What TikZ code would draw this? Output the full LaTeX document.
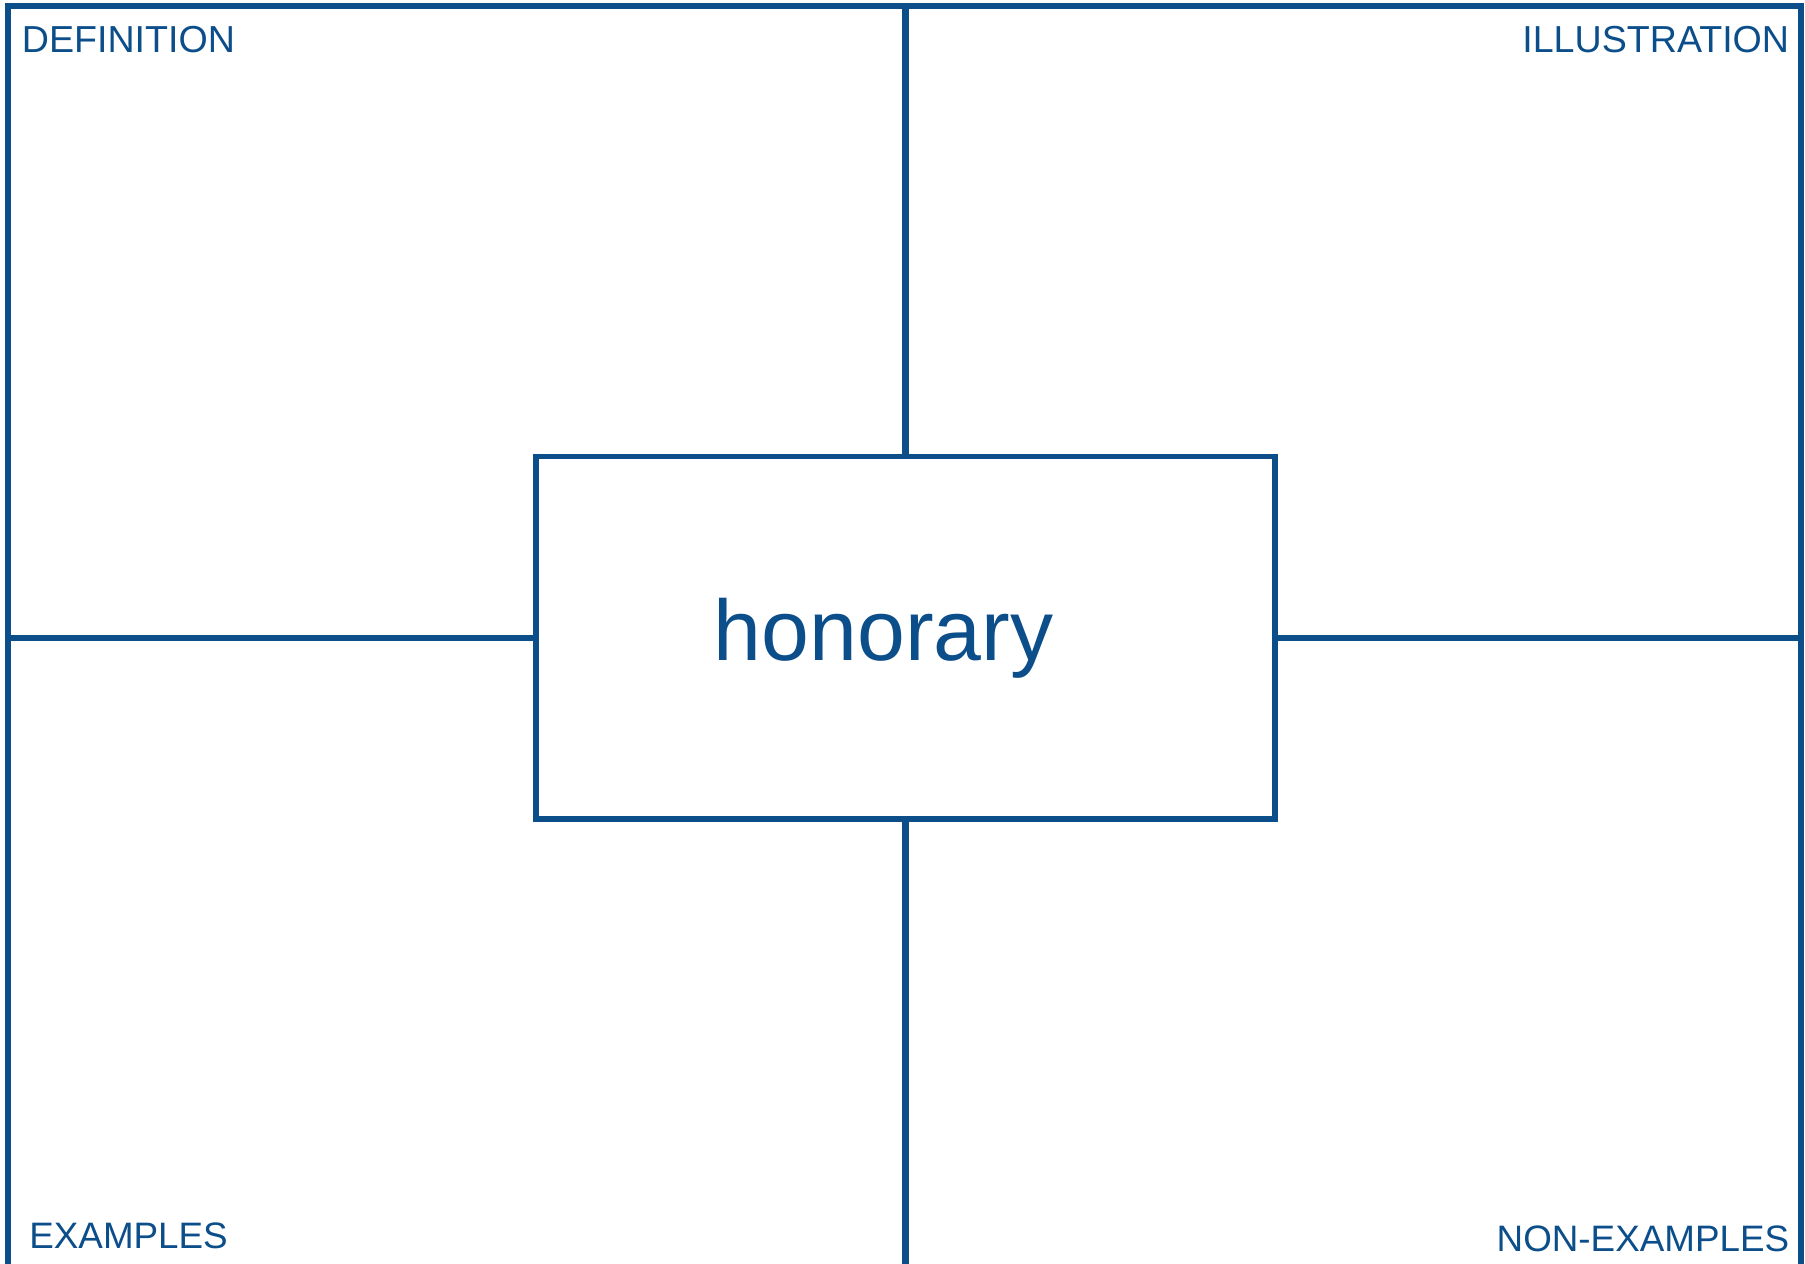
\documentclass[tikz,border=0pt]{standalone}
\usepackage{fontspec}
\setmainfont{Liberation Sans}
\definecolor{frameblue}{RGB}{11,78,138}
\tikzset{
  frame line/.style={draw=frameblue, line width=2.8pt},
  mid line/.style={draw=frameblue, line width=3.7pt},
  corner label/.style={text=frameblue, font=\fontsize{18.8}{22}\selectfont, inner sep=0pt},
  lower label/.style={corner label, font=\fontsize{18.4}{22}\selectfont},
}

\begin{document}
\begin{tikzpicture}[x=0.5pt, y=-0.5pt]

    \useasboundingbox (0,0) rectangle (1805,1264);

    % frame corners
    \coordinate (TL) at (8,6);
    \coordinate (TR) at (1801,6);
    \coordinate (BL) at (8,1264);
    \coordinate (BR) at (1801,1264);

    \node [draw=frameblue, line width=2.7pt, minimum width=369.5pt, minimum height=181.25pt, inner sep=0pt] (word) at (905.5,637.75) {};
    \node [text=frameblue, font=\fontsize{43}{50}\selectfont, anchor=base west, inner sep=0pt] (term) at (713.5,660) {honorary};

    \node [corner label, anchor=base west] (def) at (21.5,52.7) {DEFINITION};
    \node [corner label, anchor=base east] (ill) at (1789.5,52.7) {ILLUSTRATION};
    \node [lower label, anchor=base west] (ex) at (29,1248.5) {EXAMPLES};
    \node [lower label, anchor=base east] (nonex) at (1789.5,1251) {NON-EXAMPLES};

    \draw[frame line] (BL) -- (TL) -- (TR) -- (BR);

    \draw[mid line] (word.north |- TL) -- (word.north);
    \draw[mid line] (word.south) -- (word.south |- BL);
    \draw[frame line] (word.west -| TL) -- (word.west);
    \draw[frame line] (word.east) -- (word.east -| TR);

\end{tikzpicture}
\end{document}
